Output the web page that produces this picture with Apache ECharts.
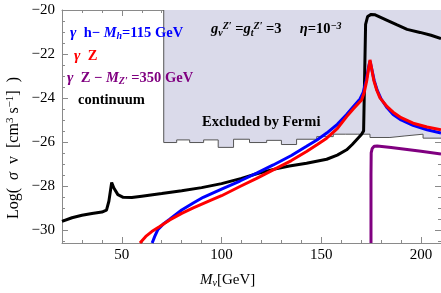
<!DOCTYPE html>
<html><head><meta charset="utf-8">
<script src="https://cdn.jsdelivr.net/npm/echarts@6/dist/echarts.min.js"></script>
<style>html,body{margin:0;padding:0;background:#fff}#c{width:441px;height:293px}</style>
</head><body><div id="c"></div>
<script>
// ---- data ----
const xTicksMajor = [50, 100, 150, 200];
const yTicksMajor = [-30, -28, -26, -24, -22, -20];
const continuum = [[20,-29.62],[25,-29.45],[30,-29.34],[35,-29.26],[40,-29.19],[42.3,-29.1],[43.5,-28.7],[44.9,-27.85],[46,-28.1],[48,-28.4],[50.7,-28.52],[55,-28.53],[60,-28.47],[70,-28.35],[80,-28.22],[90,-28.08],[100,-27.9],[110,-27.66],[117.6,-27.45],[126,-27.25],[134,-27.1],[142.6,-26.97],[152.7,-26.79],[158,-26.6],[162.7,-26.36],[165.5,-26.12],[167.7,-25.9],[170.2,-25.65],[171.2,-25.5],[172.2,-20.65],[173.2,-20.3],[175,-20.2],[177,-20.22],[183,-20.47],[188,-20.68],[193,-20.88],[199.5,-21.02],[205,-21.15],[210,-21.3]];
const gammaH = [[65.2,-30.6],[66.5,-30.3],[68,-30.0],[71,-29.72],[74,-29.52],[80,-29.1],[85.8,-28.78],[90.8,-28.52],[100,-28.15],[109.2,-27.78],[117.6,-27.42],[125.9,-27.05],[135,-26.62],[142.6,-26.2],[148,-25.9],[152.7,-25.6],[158,-25.2],[162.7,-24.75],[166,-24.4],[169.4,-24.05],[171,-23.75],[172.5,-23.2],[173.7,-22.6],[174.4,-22.32],[175.2,-22.65],[176.5,-23.2],[178,-23.65],[180,-24.05],[183,-24.45],[186,-24.75],[190,-25.0],[196,-25.25],[203,-25.45],[210,-25.6]];
const gammaZ = [[59.1,-30.6],[62,-30.3],[65,-30.08],[69,-29.85],[74,-29.55],[80,-29.25],[85.8,-29.0],[95,-28.64],[100,-28.45],[109.2,-28.03],[117.6,-27.66],[125.9,-27.27],[135,-26.85],[142.6,-26.44],[148,-26.12],[152.7,-25.83],[158,-25.4],[162.7,-24.85],[166,-24.5],[170.2,-24.09],[171.5,-23.75],[172.8,-23.2],[173.8,-22.6],[174.4,-22.27],[175.1,-22.6],[176.3,-23.2],[177.8,-23.65],[179.4,-24.0],[183,-24.4],[186,-24.65],[190,-24.9],[196,-25.15],[203,-25.32],[210,-25.45]];
const gammaZp = [[174.9,-30.6],[174.9,-27.5],[175,-26.5],[175.5,-26.3],[176.5,-26.2],[178,-26.19],[185,-26.26],[190,-26.31],[200,-26.43],[210,-26.55]];
const fermiEdges = [71, 77.5, 84, 91, 98.3, 106, 114, 122.6, 130, 137.6, 147.7, 156, 162, 168, 174.4, 184.4, 191.9, 201, 210];
const fermiLimit = [-26.03, -25.91, -26.03, -25.91, -26.25, -25.88, -26.03, -25.93, -26.12, -25.88, -25.76, -25.65, -25.65, -25.65, -25.8, -25.73, -25.65, -25.83];

// ---- build ----
const fermiPts = [[fermiEdges[0], -20]];
for (let i = 0; i < fermiLimit.length; i++) {
  fermiPts.push([fermiEdges[i], fermiLimit[i]]);
  fermiPts.push([fermiEdges[i + 1], fermiLimit[i]]);
}
const XMIN = 20, XMAX = 210, YMIN = -30.6, YMAX = -20;
const minorX = []; for (let v = 20; v <= 210; v += 10) if (v % 50) minorX.push(v);
const minorY = []; for (let v = -30.5; v <= -20; v += 0.5) if (Math.abs(v % 2) > 1e-9) minorY.push(v);
const FG = '#8a8a8a';
const serif = 'Liberation Serif';
function xAx(pos, vals, len, labels, line) {
  return { type: 'value', position: pos, min: XMIN, max: XMAX, splitLine: { show: false },
    axisLine: { show: line, onZero: false, lineStyle: { color: FG, width: 1 } },
    axisTick: { show: true, inside: true, length: len, customValues: vals, lineStyle: { color: FG } },
    axisLabel: labels ? { show: true, customValues: vals, color: '#000', fontFamily: serif, fontSize: 15, margin: 5 } : { show: false } };
}
function yAx(pos, vals, len, labels, line) {
  return { type: 'value', position: pos, min: YMIN, max: YMAX, splitLine: { show: false },
    axisLine: { show: line, onZero: false, lineStyle: { color: FG, width: 1 } },
    axisTick: { show: true, inside: true, length: len, customValues: vals, lineStyle: { color: FG } },
    axisLabel: labels ? { show: true, customValues: vals, color: '#000', fontFamily: serif, fontSize: 15, margin: 7,
      formatter: v => String(v).replace('-', '\u2212') } : { show: false } };
}
const chart = echarts.init(document.getElementById('c'), null, { renderer: 'canvas' });
const lineS = (name, data, color, z) => ({ name, type: 'line', data, showSymbol: false, symbol: 'none', smooth: false,
  lineStyle: { color, width: 3 }, z, clip: true, animation: false });
const FS = 14.5;
const rich = {
  i: { fontFamily: serif, fontStyle: 'italic', fontWeight: 'bold', fontSize: FS + 1 },
  b: { fontFamily: serif, fontWeight: 'bold', fontSize: FS },
  ib: { fontFamily: serif, fontWeight: 'bold', fontStyle: 'italic', fontSize: FS },
  sub: { fontFamily: serif, fontWeight: 'bold', fontStyle: 'italic', fontSize: 10, verticalAlign: 'bottom', padding: [6, 0, 0, 0] },
  sup: { fontFamily: serif, fontWeight: 'bold', fontStyle: 'italic', fontSize: 10, verticalAlign: 'top', padding: [0, 0, 7, 0] }
};
function withColor(c) { const r = {}; for (const k in rich) r[k] = Object.assign({}, rich[k], { fill: c }); return r; }
chart.setOption({
  animation: false,
  grid: { left: 62, top: 10, width: 379, height: 233, containLabel: false },
  xAxis: [xAx('bottom', xTicksMajor, 6, true, true), xAx('bottom', minorX, 3, false, false), xAx('top', xTicksMajor, 6, false, true), xAx('top', minorX, 3, false, false)],
  yAxis: [yAx('left', yTicksMajor, 6, true, true), yAx('left', minorY, 3, false, false), yAx('right', yTicksMajor, 6, false, true), yAx('right', minorY, 3, false, false)],
  series: [
    { name: 'fermi', type: 'line', data: fermiPts, showSymbol: false, symbol: 'none', z: 1,
      lineStyle: { color: '#555', width: 1 }, areaStyle: { color: 'rgb(218,218,234)', opacity: 1, origin: 'end' } },
    lineS('continuum', continuum, '#000', 3),
    lineS('gamma h', gammaH, '#0000ff', 4),
    lineS('gamma Z', gammaZ, '#ff0000', 5),
    lineS('gamma Zp', gammaZp, '#800080', 6)
  ],
  graphic: [
    { type: 'text', left: 70, top: 25, z: 10, style: { text: '{i|γ}{b|  h− }{ib|M}{sub|h}{b|=115 GeV}', rich: withColor('#0000ff') } },
    { type: 'text', left: 74, top: 48, z: 10, style: { text: '{i|γ}{b|  Z}', rich: withColor('#ff0000') } },
    { type: 'text', left: 67, top: 70, z: 10, style: { text: '{i|γ}{b|  Z − }{ib|M}{sub|Z′}{b| =350 GeV}', rich: withColor('#800080') } },
    { type: 'text', left: 78, top: 93, z: 10, style: { text: '{b|continuum}', rich: withColor('#000') } },
    { type: 'text', left: 211, top: 21, z: 10, style: { text: '{ib|g}{sub|ν}{sup|Z′}{b| =}{ib|g}{sub|t}{sup|Z′}{b| =3     }{ib|η}{b|=10}{sup|−3}', rich: withColor('#000') } },
    { type: 'text', left: 202, top: 115, z: 10, style: { text: '{b|Excluded by Fermi}', rich: withColor('#000') } },
    { type: 'text', left: 200, top: 273, z: 10, style: { text: '{ii|M}{s|ν}{n|[GeV]}', rich: {
      ii: { fontFamily: serif, fontStyle: 'italic', fontSize: 15, fill: '#000' },
      s: { fontFamily: serif, fontStyle: 'italic', fontSize: 10, fill: '#000', verticalAlign: 'bottom', padding: [6, 0, 0, 0] },
      n: { fontFamily: serif, fontSize: 15, fill: '#000' } } } },
    { type: 'text', x: 14, y: 148, rotation: Math.PI / 2, z: 10, style: { text: '{n|Log(  }{ii|σ}{n|  v  [cm}{p|3}{n| s}{p|−1}{n|]  )}', align: 'center', verticalAlign: 'middle', rich: {
      n: { fontFamily: serif, fontSize: 16, fill: '#000' },
      ii: { fontFamily: serif, fontStyle: 'italic', fontSize: 16, fill: '#000' },
      p: { fontFamily: serif, fontSize: 11, fill: '#000', verticalAlign: 'top', padding: [0, 0, 7, 0] } } } }
  ]
});
</script></body></html>
